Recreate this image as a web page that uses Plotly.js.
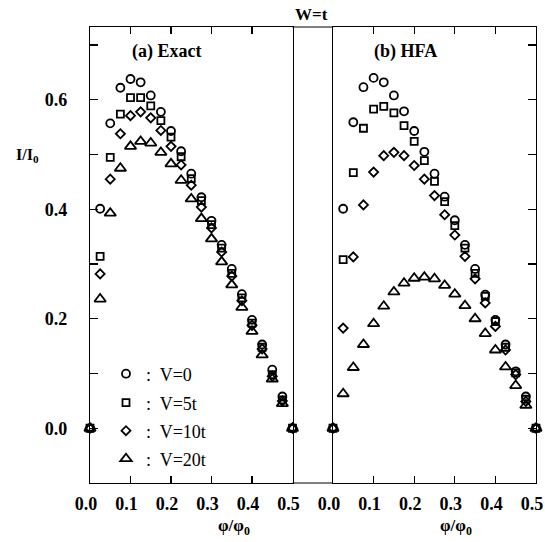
<!DOCTYPE html>
<html>
<head>
<meta charset="utf-8">
<script src="https://cdn.plot.ly/plotly-3.0.1.min.js"></script>
<style>html,body{margin:0;padding:0;background:#fff;}#chart{width:545px;height:542px;}</style>
</head>
<body>
<div id="chart"></div>
<script>
// flux values phi/phi0
const phi = [0, 0.025, 0.05, 0.075, 0.1, 0.125, 0.15, 0.175, 0.2, 0.225, 0.25,
             0.275, 0.3, 0.325, 0.35, 0.375, 0.4, 0.425, 0.45, 0.475, 0.5];

// (a) Exact
const exactV0   = [0, 0.401, 0.557, 0.622, 0.638, 0.632, 0.608, 0.578, 0.543, 0.506, 0.465,
                   0.422, 0.379, 0.335, 0.291, 0.245, 0.198, 0.153, 0.107, 0.058, 0];
const exactV5   = [0, 0.314, 0.495, 0.574, 0.604, 0.604, 0.589, 0.562, 0.532, 0.496, 0.456,
                   0.416, 0.372, 0.329, 0.283, 0.238, 0.192, 0.148, 0.098, 0.052, 0];
const exactV10  = [0, 0.282, 0.455, 0.538, 0.571, 0.578, 0.567, 0.544, 0.515, 0.481, 0.444,
                   0.404, 0.366, 0.322, 0.278, 0.233, 0.188, 0.145, 0.095, 0.050, 0];
const exactV20  = [0, 0.236, 0.393, 0.475, 0.515, 0.524, 0.521, 0.504, 0.483, 0.453, 0.419,
                   0.383, 0.346, 0.304, 0.262, 0.221, 0.177, 0.134, 0.090, 0.045, 0];

// (b) HFA
const hfaV0  = [0, 0.401, 0.559, 0.623, 0.640, 0.632, 0.608, 0.579, 0.543, 0.505, 0.465,
                0.423, 0.380, 0.335, 0.291, 0.244, 0.198, 0.153, 0.104, 0.058, 0];
const hfaV5  = [0, 0.308, 0.467, 0.548, 0.583, 0.588, 0.576, 0.553, 0.524, 0.489, 0.451,
                0.414, 0.370, 0.329, 0.283, 0.241, 0.195, 0.148, 0.101, 0.053, 0];
const hfaV10 = [0, 0.183, 0.313, 0.408, 0.468, 0.498, 0.504, 0.498, 0.480, 0.455, 0.425,
                0.390, 0.353, 0.314, 0.273, 0.229, 0.186, 0.143, 0.098, 0.049, 0];
const hfaV20 = [0, 0.063, 0.111, 0.153, 0.191, 0.223, 0.249, 0.265, 0.274, 0.276, 0.273,
                0.261, 0.245, 0.224, 0.200, 0.173, 0.143, 0.112, 0.078, 0.042, 0];

const seriesNames = [":  V=0", ":  V=5t", ":  V=10t", ":  V=20t"];
const yTickVals = [0, 0.1, 0.2, 0.3, 0.4, 0.5, 0.6, 0.7];
const yTickText = ["0.0", "", "0.2", "", "0.4", "", "0.6", ""];
const xTickVals = [0, 0.1, 0.2, 0.3, 0.4, 0.5];

const symbols = ["circle-open", "square-open", "diamond-open", "triangle-up-open"];
const sizes = [8, 7, 7, 10];

const FONT = "Liberation Serif, Times New Roman, serif";
const W = 545, H = 542, ML = 90, MR = 9, MT = 27, MB = 59;
const PW = W - ML - MR, PH = H - MT - MB;
const px = x => (x - ML) / PW;
const py = y => (H - MB - y) / PH;

const exactSets = [exactV0, exactV5, exactV10, exactV20];
const hfaSets = [hfaV0, hfaV5, hfaV10, hfaV20];
const legendIds = ['legend', 'legend2', 'legend3', 'legend4'];
const legendCenters = [374, 403, 431, 459];

const traces = [];
exactSets.forEach((ys, i) => {
  traces.push({
    x: phi, y: ys, xaxis: 'x', yaxis: 'y', type: 'scatter', mode: 'markers',
    name: seriesNames[i], showlegend: true, legend: legendIds[i], cliponaxis: false,
    marker: {symbol: symbols[i], size: sizes[i], color: '#000', line: {color: '#000', width: 1.8}}
  });
});
hfaSets.forEach((ys, i) => {
  traces.push({
    x: phi, y: ys, xaxis: 'x2', yaxis: 'y2', type: 'scatter', mode: 'markers',
    name: seriesNames[i], showlegend: false, cliponaxis: false,
    marker: {symbol: symbols[i], size: sizes[i], color: '#000', line: {color: '#000', width: 1.8}}
  });
});

const tickFont = {family: FONT, size: 18, color: '#000', weight: 'bold'};
const xCommon = {
  range: [0, 0.5], tickvals: xTickVals, tickformat: '.1f', ticks: 'inside', ticklen: 7,
  tickwidth: 1.2, tickcolor: '#000', showline: true, linecolor: '#000', linewidth: 1.2,
  mirror: 'ticks', showgrid: false, zeroline: false, tickfont: tickFont, ticklabelstandoff: 4,
  ticklabelshift: -4, ticklabeloverflow: 'allow'
};
const x1 = Object.assign({}, xCommon, {domain: [0, px(292.5)], anchor: 'y'});
const x2 = Object.assign({}, xCommon, {domain: [px(333), 1], anchor: 'y2'});
const y1 = {
  range: [-0.1, 0.733], domain: [0, 1], anchor: 'x', tickvals: yTickVals, ticktext: yTickText,
  ticks: 'inside', ticklen: 8, tickwidth: 1.2, tickcolor: '#000', showline: true,
  linecolor: '#000', linewidth: 1.2, mirror: true, showgrid: false, zeroline: false,
  tickfont: tickFont, ticklabelstandoff: 18
};
const y2 = {
  range: [-0.1, 0.733], domain: [0, 1], anchor: 'x2', side: 'right', tickvals: yTickVals,
  showticklabels: false, ticks: 'inside', ticklen: 8, tickwidth: 1.2, tickcolor: '#000',
  showline: true, linecolor: '#000', linewidth: 1.2, mirror: true, showgrid: false, zeroline: false
};

const annFont = {family: FONT, size: 18, color: '#000'};
const annotations = [
  {text: "<b>W=t</b>", x: px(311), y: py(15), font: {family: FONT, size: 17, color: '#000'}},
  {text: "<b>(a) Exact</b>", x: px(166.5), y: py(51), font: annFont},
  {text: "<b>(b) HFA</b>", x: px(405.5), y: py(51), font: annFont},
  {text: "<b>I/I<sub>0</sub></b>", x: px(28), y: py(155), font: {family: FONT, size: 16, color: '#000'}},
  {text: "<b>φ/φ<sub>0</sub></b>", x: px(234), y: py(527), font: {family: FONT, size: 17, color: '#000'}},
  {text: "<b>φ/φ<sub>0</sub></b>", x: px(456), y: py(527), font: {family: FONT, size: 17, color: '#000'}}
].map(a => Object.assign({xref: 'paper', yref: 'paper', showarrow: false, xanchor: 'center', yanchor: 'middle'}, a));

const shapes = [
  {type: 'line', xref: 'paper', yref: 'paper', x0: px(292.5), x1: px(333), y0: 1, y1: 1, line: {color: '#000', width: 1.2}},
  {type: 'line', xref: 'paper', yref: 'paper', x0: px(292.5), x1: px(333), y0: 0, y1: 0, line: {color: '#000', width: 1.2}}
];

const layout = {
  width: W, height: H, margin: {l: ML, r: MR, t: MT, b: MB},
  paper_bgcolor: '#fff', plot_bgcolor: '#fff', font: {family: FONT, color: '#000'},
  xaxis: x1, xaxis2: x2, yaxis: y1, yaxis2: y2,
  showlegend: true,
  annotations: annotations, shapes: shapes
};
legendIds.forEach((id, i) => {
  layout[id] = {x: px(106), y: py(legendCenters[i]), xanchor: 'left', yanchor: 'middle',
                bgcolor: 'rgba(0,0,0,0)', borderwidth: 0,
                font: {family: FONT, size: 18, color: '#000'}, itemwidth: 30};
});

Plotly.newPlot('chart', traces, layout, {displayModeBar: false, staticPlot: true});
</script>
</body>
</html>
